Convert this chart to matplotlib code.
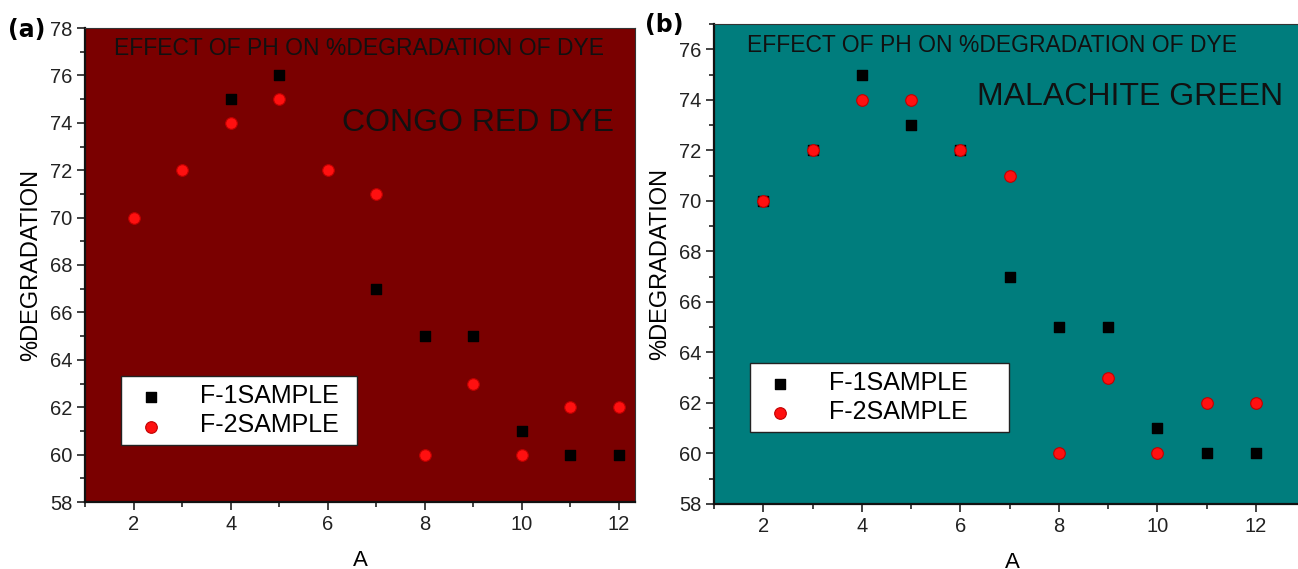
import numpy as np
import matplotlib.pyplot as plt
from matplotlib.ticker import MultipleLocator

# pH values and % degradation for the two dyes
ph = [2, 3, 4, 5, 6, 7, 8, 9, 10, 11, 12]

congo_ph_f1 = [4, 5, 7, 8, 9, 10, 11, 12]
congo_f1 = [75, 76, 67, 65, 65, 61, 60, 60]
congo_f2 = [70, 72, 74, 75, 72, 71, 60, 63, 60, 62, 62]

mal_f1 = [70, 72, 75, 73, 72, 67, 65, 65, 61, 60, 60]
mal_f2 = [70, 72, 74, 74, 72, 71, 60, 63, 60, 62, 62]

W, H = 1298, 569
narrow = ['Liberation Sans Narrow', 'Liberation Sans', 'DejaVu Sans']

fig = plt.figure(figsize=(W / 100, H / 100), dpi=100)


def box(x0, y0, x1, y1):
    # pixel box -> figure fraction
    return [x0 / W, 1 - y1 / H, (x1 - x0) / W, (y1 - y0) / H]


def panel(ax, x1, y1, x2, y2, bg, ylim, xmax, dye, dye_xy, leg_box):
    ax.set_facecolor(bg)
    ax.scatter(x1, y1, marker='s', s=55, c='black', zorder=3, label='F-1SAMPLE')
    ax.scatter(x2, y2, marker='o', s=70, c='#ff1010', edgecolors='#c00000',
               linewidths=0.8, zorder=4, label='F-2SAMPLE')
    ax.set_xlim(1, xmax)
    ax.set_ylim(*ylim)
    ax.xaxis.set_major_locator(MultipleLocator(2))
    ax.xaxis.set_minor_locator(MultipleLocator(1))
    ax.yaxis.set_major_locator(MultipleLocator(2))
    ax.yaxis.set_minor_locator(MultipleLocator(1))
    ax.tick_params(which='both', direction='out', top=False, right=False,
                   width=1.2, colors='#222222')
    ax.tick_params(which='major', length=6, labelsize=14.5, pad=3)
    ax.tick_params(which='minor', length=3.5)
    for t in ax.get_xticklabels() + ax.get_yticklabels():
        t.set_family(narrow)
    for side in ['top', 'right']:
        ax.spines[side].set_linewidth(0.8)
        ax.spines[side].set_color('#333333')
    for side in ['left', 'bottom']:
        ax.spines[side].set_linewidth(1.6)
        ax.spines[side].set_color('#111111')
    ax.set_ylabel('%DEGRADATION', fontsize=17, family=narrow, labelpad=6)
    ax.set_xlabel('A', fontsize=16, family=narrow, labelpad=12)
    ax.text(0.5 * (1 + 12.3), ylim[1] - 0.85, 'EFFECT OF PH ON %DEGRADATION OF DYE',
            ha='center', va='center', fontsize=16.5, family=narrow, color='#111111')
    ax.text(dye_xy[0], dye_xy[1], dye, ha='right', va='center', fontsize=23,
            family=narrow, color='#111111')
    leg = ax.legend(loc='lower left', bbox_to_anchor=leg_box, mode='expand',
                    fontsize=16, frameon=True, fancybox=False, framealpha=1,
                    borderpad=0.35, handletextpad=1.2, labelspacing=0.25,
                    markerscale=1.0, borderaxespad=0)
    leg.get_frame().set_facecolor('white')
    leg.get_frame().set_edgecolor('#222222')
    leg.get_frame().set_linewidth(1.0)
    for t in leg.get_texts():
        t.set_family(narrow)
        t.set_fontsize(18)
    return ax


ax1 = fig.add_axes(box(85, 28, 635, 502))
panel(ax1, congo_ph_f1, congo_f1, ph, congo_f2, '#7a0000', (58, 78), 12.33,
      'CONGO RED DYE', (11.9, 74.0), (0.065, 0.12, 0.43, 0.145))

ax2 = fig.add_axes(box(714, 24, 1310, 504))
panel(ax2, ph, mal_f1, ph, mal_f2, '#007d7d', (58, 77), 13.1,
      'MALACHITE GREEN', (12.55, 74.1), (0.06, 0.15, 0.435, 0.15))

fig.text(8 / W, 1 - 30 / H, '(a)', fontsize=17, fontweight='bold', va='center')
fig.text(645 / W, 1 - 25 / H, '(b)', fontsize=17, fontweight='bold', va='center')

fig.savefig('out.png', dpi=100)
